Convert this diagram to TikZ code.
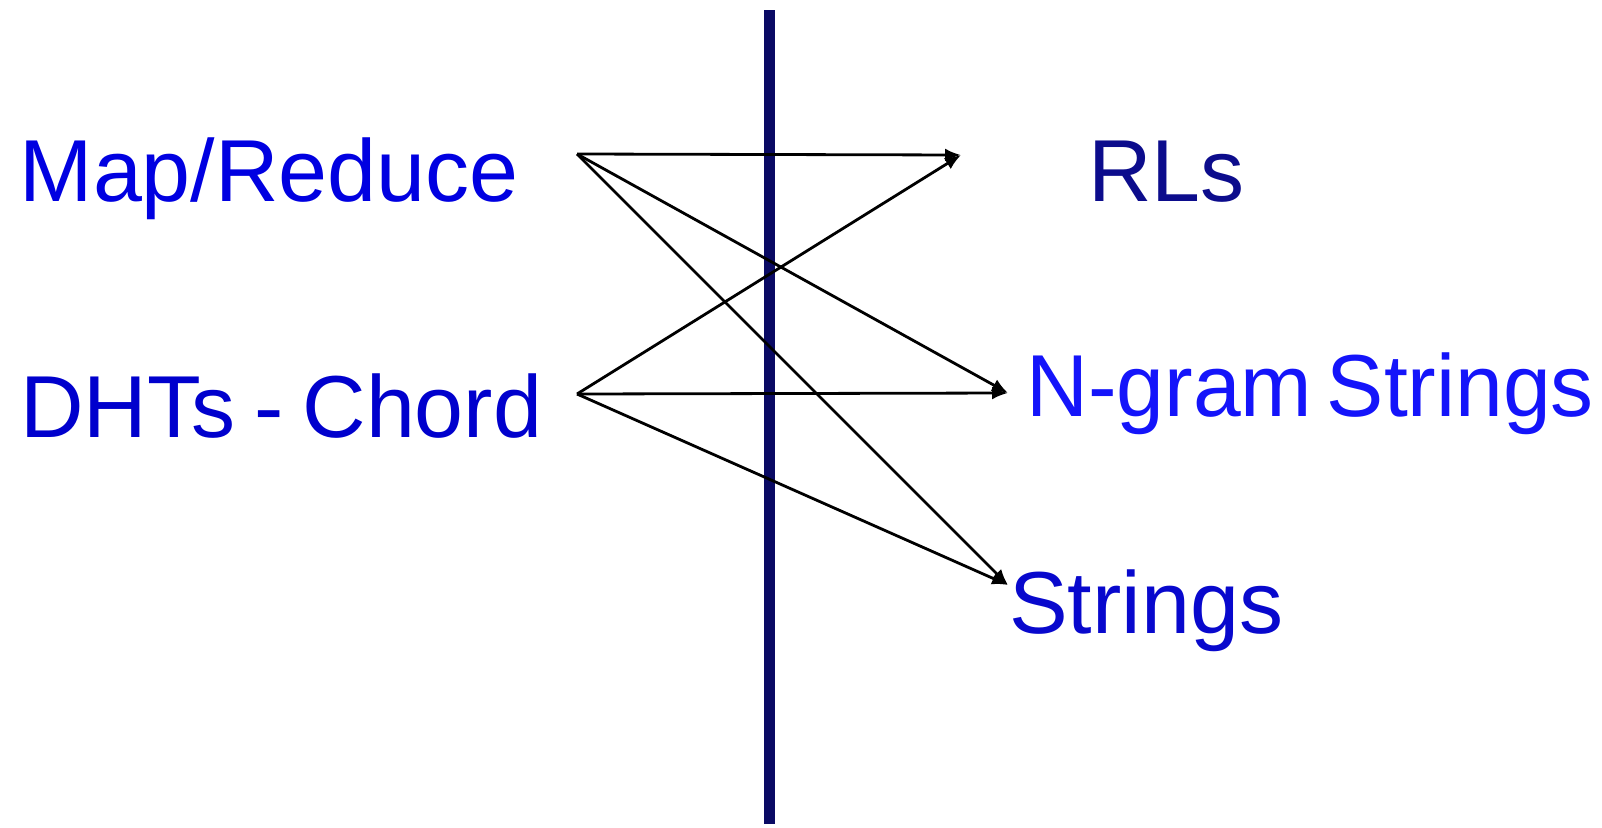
\documentclass[tikz,border=0pt]{standalone}
\usepackage{fontspec}
\setmainfont{Liberation Sans}
\usetikzlibrary{arrows.meta}
\definecolor{cMap}{RGB}{0,0,225}
\definecolor{cDht}{RGB}{0,0,205}
\definecolor{cRl}{RGB}{12,12,140}
\definecolor{cNg}{RGB}{20,20,250}
\definecolor{cStr}{RGB}{8,8,205}
\definecolor{cBar}{RGB}{10,10,100}
\tikzset{
  lbl/.style={anchor=base west,inner sep=0pt,font=\fontsize{88}{100}\selectfont},
  conn/.style={draw=black,line width=2.8pt,-{Latex[length=16pt,width=13pt]}},
  bar/.style={draw=cBar,line width=11pt}
}
\begin{document}
\begin{tikzpicture}[x=1pt,y=-1pt]
\useasboundingbox (0,0) rectangle (1602,827);
\node[lbl,text=cMap] (mr) at (19.5,201) {Map/Reduce};
\node[lbl,text=cDht] (dht) at (20,437) {DHTs\hspace{19pt}-\hspace{19pt}Chord};
\node[lbl,text=cRl] (rl) at (1088,201) {RLs};
\node[lbl,text=cNg] (ng) at (1026,416) {\scalebox{0.975}[1]{N-gram\hspace{15pt}Strings}};
\node[lbl,text=cStr] (st) at (1009,633) {Strings};
\coordinate (bartop) at (769,10);
\coordinate (barbot) at (769,824);
\draw[bar] (bartop) -- (barbot);
\coordinate (mro) at (577,154);
\coordinate (dho) at (577,394);
\coordinate (rli) at (961,155);
\coordinate (ngi) at (1008,393);
\coordinate (sti) at (1008,585);
\draw[conn] (mro) -- (rli);
\draw[conn] (mro) -- (ngi);
\draw[conn] (mro) -- (sti);
\draw[conn] (dho) -- (rli);
\draw[conn] (dho) -- (ngi);
\draw[conn] (dho) -- (sti);
\end{tikzpicture}
\end{document}
